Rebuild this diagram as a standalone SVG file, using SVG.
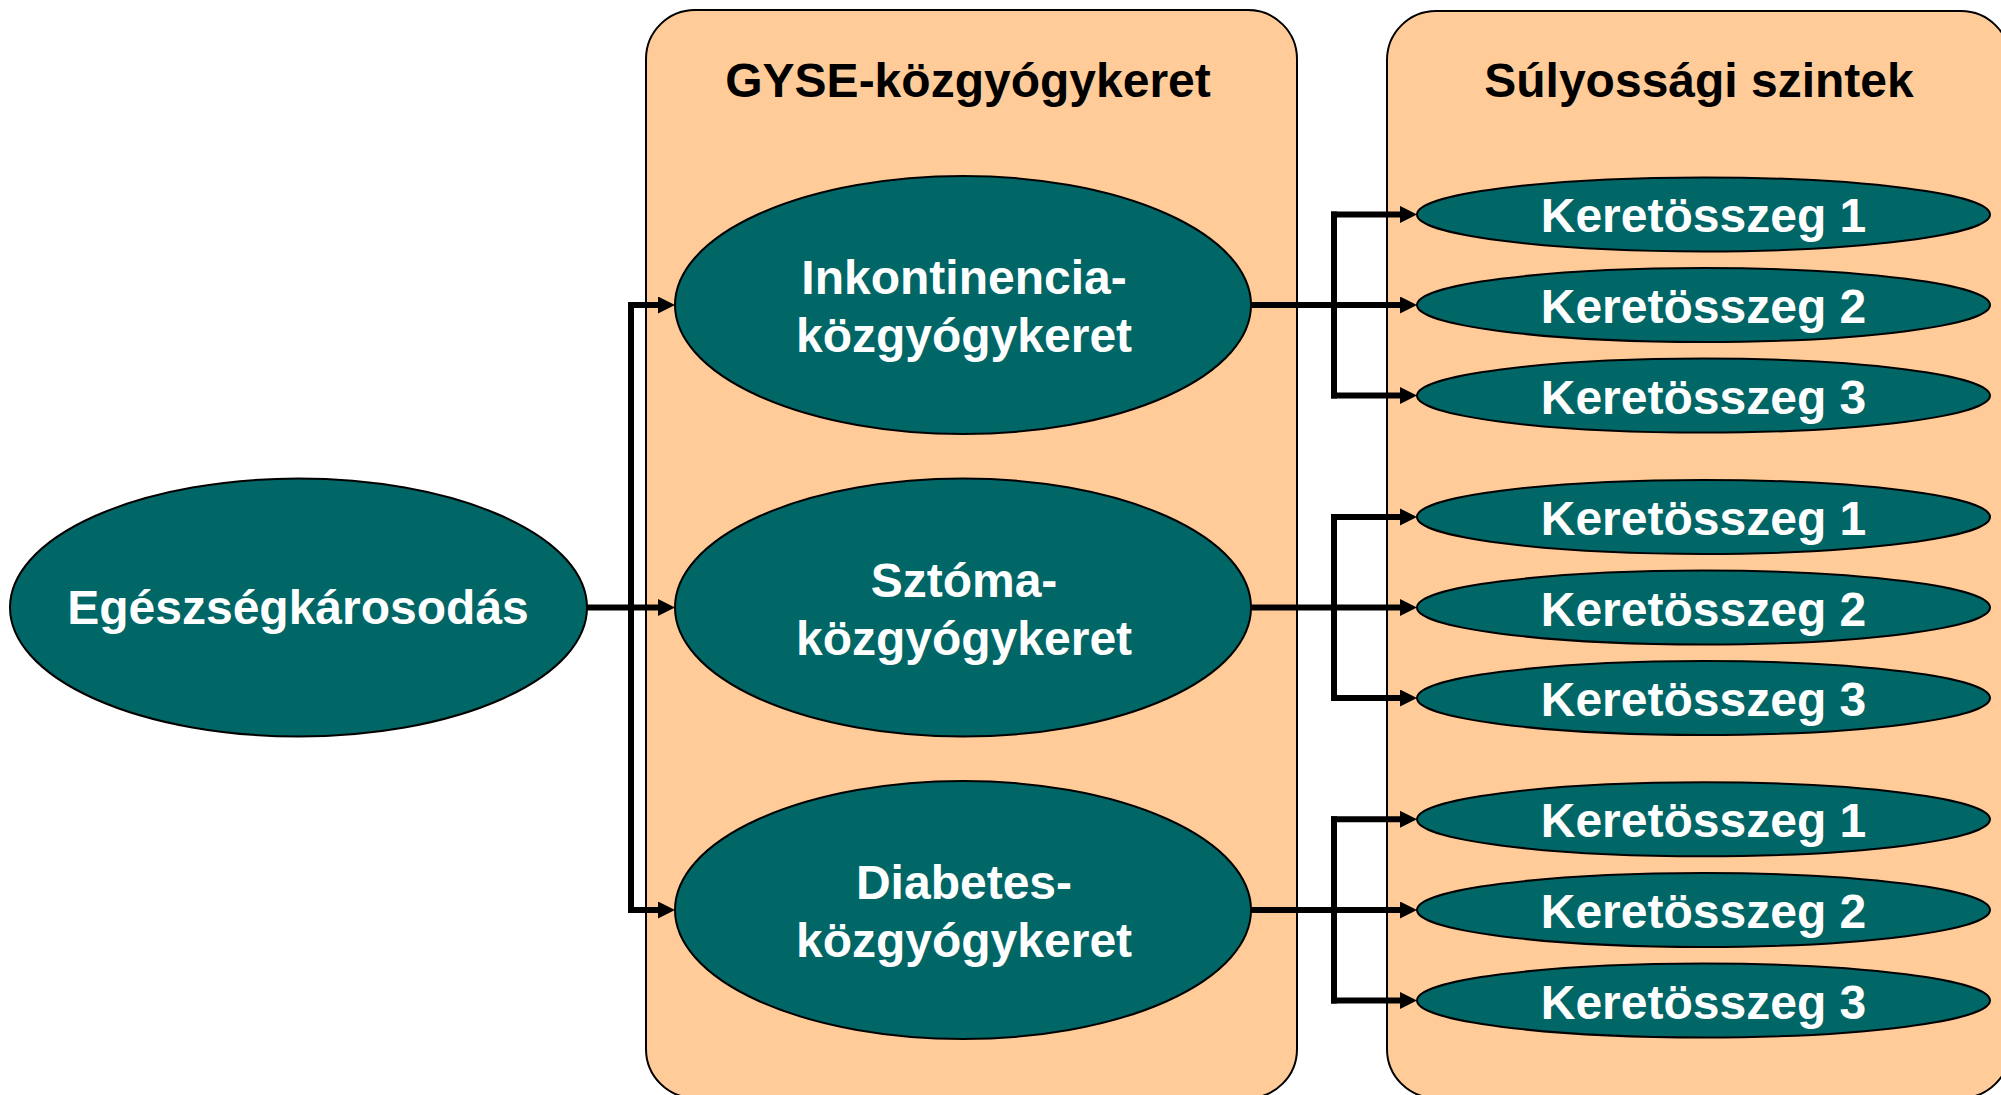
<svg xmlns="http://www.w3.org/2000/svg" width="2001" height="1095" viewBox="0 0 2001 1095">
<style>
.panel{fill:#FFCC99;stroke:#000;stroke-width:2}
.node{fill:#006666;stroke:#000;stroke-width:2}
.t{font-family:"Liberation Sans",Arial,sans-serif;font-weight:bold;font-size:48px;text-anchor:middle;fill:#fff}
.h{font-family:"Liberation Sans",Arial,sans-serif;font-weight:bold;font-size:48px;text-anchor:middle;fill:#000}
.c{fill:none;stroke:#000;stroke-width:6}
.a{stroke:#000;stroke-width:6;fill:none;marker-end:url(#arr)}
</style>
<defs>
<marker id="arr" markerUnits="userSpaceOnUse" markerWidth="18" markerHeight="18" refX="1" refY="8.5" orient="auto">
<path d="M0,0 L17,8.5 L0,17 z" fill="#000"/>
</marker>
</defs>
<rect width="2001" height="1095" fill="#fff"/>
<g id="panel-gyse">
<rect class="panel" x="646" y="10" width="651" height="1088" rx="49" ry="49"/>
<text class="h" x="968" y="97">GYSE-közgyógykeret</text>
</g>
<g id="panel-sulyossagi">
<rect class="panel" x="1387" y="11" width="623" height="1087" rx="49" ry="49"/>
<text class="h" x="1699" y="97">Súlyossági szintek</text>
</g>
<g id="connectors">
<path class="c" d="M587,607.5 H631 M631,302 V913"/>
<path class="a" d="M628,305 H659"/>
<path class="a" d="M631,607.5 H659"/>
<path class="a" d="M628,910 H659"/>
<path class="c" d="M1251,305 H1334 M1334,211.4 V398.6"/>
<path class="a" d="M1331,214.4 H1401"/>
<path class="a" d="M1334,305 H1401"/>
<path class="a" d="M1331,395.6 H1401"/>
<path class="c" d="M1251,607.5 H1334 M1334,513.9 V701"/>
<path class="a" d="M1331,516.9 H1401"/>
<path class="a" d="M1334,607.5 H1401"/>
<path class="a" d="M1331,698 H1401"/>
<path class="c" d="M1251,910 H1334 M1334,816.3 V1003.5"/>
<path class="a" d="M1331,819.3 H1401"/>
<path class="a" d="M1334,910 H1401"/>
<path class="a" d="M1331,1000.5 H1401"/>
</g>
<g id="egeszsegkarosodas">
<ellipse class="node" cx="298.5" cy="607.5" rx="288.5" ry="129"/>
<text class="t" x="298" y="624">Egészségkárosodás</text>
</g>
<g id="inkontinencia">
<ellipse class="node" cx="963" cy="305" rx="288" ry="129"/>
<text class="t" x="964" y="294">Inkontinencia-</text>
<text class="t" x="964" y="352">közgyógykeret</text>
</g>
<g id="sztoma">
<ellipse class="node" cx="963" cy="607.5" rx="288" ry="129"/>
<text class="t" x="964" y="596.5">Sztóma-</text>
<text class="t" x="964" y="654.5">közgyógykeret</text>
</g>
<g id="diabetes">
<ellipse class="node" cx="963" cy="910" rx="288" ry="129"/>
<text class="t" x="964" y="899">Diabetes-</text>
<text class="t" x="964" y="957">közgyógykeret</text>
</g>
<g id="ink-1"><ellipse class="node" cx="1703.5" cy="214.4" rx="286.5" ry="37"/><text class="t" x="1703.5" y="232.4">Keretösszeg 1</text></g>
<g id="ink-2"><ellipse class="node" cx="1703.5" cy="305" rx="286.5" ry="37"/><text class="t" x="1703.5" y="323">Keretösszeg 2</text></g>
<g id="ink-3"><ellipse class="node" cx="1703.5" cy="395.6" rx="286.5" ry="37"/><text class="t" x="1703.5" y="413.6">Keretösszeg 3</text></g>
<g id="szt-1"><ellipse class="node" cx="1703.5" cy="516.9" rx="286.5" ry="37"/><text class="t" x="1703.5" y="534.9">Keretösszeg 1</text></g>
<g id="szt-2"><ellipse class="node" cx="1703.5" cy="607.5" rx="286.5" ry="37"/><text class="t" x="1703.5" y="625.5">Keretösszeg 2</text></g>
<g id="szt-3"><ellipse class="node" cx="1703.5" cy="698" rx="286.5" ry="37"/><text class="t" x="1703.5" y="716">Keretösszeg 3</text></g>
<g id="dia-1"><ellipse class="node" cx="1703.5" cy="819.3" rx="286.5" ry="37"/><text class="t" x="1703.5" y="837.3">Keretösszeg 1</text></g>
<g id="dia-2"><ellipse class="node" cx="1703.5" cy="910" rx="286.5" ry="37"/><text class="t" x="1703.5" y="928">Keretösszeg 2</text></g>
<g id="dia-3"><ellipse class="node" cx="1703.5" cy="1000.5" rx="286.5" ry="37"/><text class="t" x="1703.5" y="1018.5">Keretösszeg 3</text></g>
</svg>
